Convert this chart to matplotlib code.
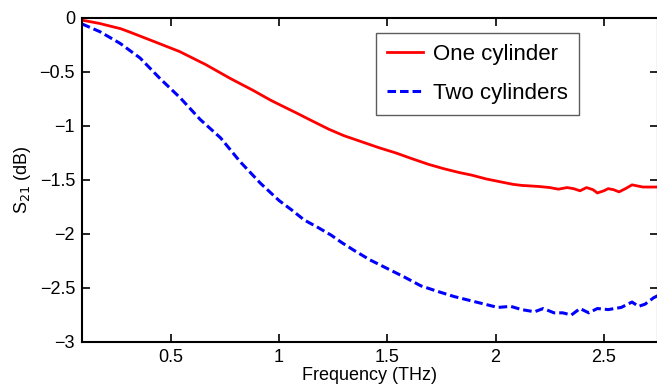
import matplotlib
matplotlib.use("Agg")
import matplotlib.pyplot as plt

plt.rcParams['font.family'] = ['Liberation Sans', 'DejaVu Sans']

# Transmission S21 versus frequency
freq_one = [0.09, 0.17, 0.27, 0.31, 0.40, 0.54, 0.66, 0.775, 0.88, 0.96, 1.0, 1.076,
            1.15, 1.23, 1.30, 1.38, 1.46, 1.54, 1.61, 1.69, 1.76, 1.83, 1.89, 1.956,
            2.03, 2.08, 2.12, 2.20, 2.25, 2.29, 2.33, 2.36, 2.39, 2.42, 2.45, 2.47,
            2.50, 2.52, 2.545, 2.57, 2.60, 2.63, 2.68, 2.75]
s21_one = [-0.02, -0.05, -0.10, -0.13, -0.20, -0.31, -0.43, -0.56, -0.67, -0.76, -0.80, -0.875,
           -0.95, -1.03, -1.09, -1.145, -1.20, -1.25, -1.30, -1.355, -1.395, -1.43, -1.455, -1.49,
           -1.52, -1.54, -1.55, -1.56, -1.57, -1.585, -1.57, -1.58, -1.60, -1.57, -1.59, -1.62,
           -1.60, -1.58, -1.59, -1.61, -1.58, -1.545, -1.565, -1.565]

freq_two = [0.09, 0.173, 0.266, 0.358, 0.45, 0.544, 0.636, 0.73, 0.82, 0.914, 1.0,
            1.06, 1.116, 1.18, 1.24, 1.29, 1.345, 1.42, 1.50, 1.58, 1.655, 1.73, 1.81,
            1.87, 1.93, 2.01, 2.07, 2.12, 2.18, 2.22, 2.27, 2.31, 2.35, 2.39, 2.43,
            2.47, 2.52, 2.58, 2.63, 2.66, 2.69, 2.73, 2.75]
s21_two = [-0.055, -0.127, -0.235, -0.37, -0.56, -0.74, -0.94, -1.11, -1.33, -1.53, -1.69,
           -1.78, -1.87, -1.94, -2.01, -2.08, -2.15, -2.24, -2.32, -2.40, -2.48, -2.53, -2.58,
           -2.61, -2.64, -2.68, -2.67, -2.70, -2.72, -2.69, -2.73, -2.73, -2.75, -2.69, -2.73,
           -2.69, -2.70, -2.68, -2.63, -2.67, -2.65, -2.59, -2.57]

x_ticks = [0.5, 1, 1.5, 2, 2.5]
x_tick_labels = ['0.5', '1', '1.5', '2', '2.5']
y_ticks = [0, -0.5, -1, -1.5, -2, -2.5, -3]
y_tick_labels = ['0', '\u22120.5', '\u22121', '\u22121.5', '\u22122', '\u22122.5', '\u22123']

fig = plt.figure(figsize=(6.57, 3.88), dpi=100)
W, H = 657, 388
left, right, top, bottom = 82, 658, 18, 342
ax = fig.add_axes([left / W, (H - bottom) / H, (right - left) / W, (bottom - top) / H])

ax.plot(freq_one, s21_one, color='#ff0000', lw=2.0, label='One cylinder')
ax.plot(freq_two, s21_two, color='#0000ff', lw=2.2, linestyle=(0, (2.8, 1.3)),
        label='Two cylinders')

ax.set_xlim(0.09, 2.75)
ax.set_ylim(-3, 0)
ax.set_xticks(x_ticks)
ax.set_xticklabels(x_tick_labels)
ax.set_yticks(y_ticks)
ax.set_yticklabels(y_tick_labels)

ax.tick_params(direction='in', length=6, width=1.2, labelsize=13, top=True, right=True,
               pad=5)
for sp in ax.spines.values():
    sp.set_linewidth(1.5)

ax.set_xlabel('Frequency (THz)', fontsize=13, labelpad=1)
ax.set_ylabel('S$_{21}$ (dB)', fontsize=13, labelpad=5)

leg = ax.legend(loc='upper left',
                bbox_to_anchor=((376 - left) / (right - left), 1 - (33 - top) / (bottom - top)),
                fontsize=16, frameon=True, fancybox=False, edgecolor='#333333',
                handlelength=1.6, handletextpad=0.45, labelspacing=0.8,
                borderpad=0.5, borderaxespad=0)
leg.get_frame().set_linewidth(1.0)

fig.savefig('out.png', dpi=100)
